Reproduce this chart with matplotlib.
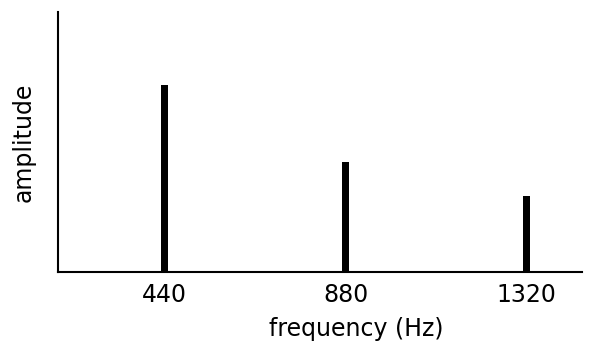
import numpy as np
import matplotlib
matplotlib.use("Agg")
import matplotlib.pyplot as plt

# harmonic spectrum
freqs = np.array([440, 880, 1320])
amps = np.array([0.72, 0.423, 0.292])
tick_labels = ["440", "880", "1320"]

fig = plt.figure(figsize=(6.02, 3.52), dpi=100)
ax = fig.add_axes([0.0963, 0.2273, 0.8705, 0.7386])

ax.bar(freqs, amps, width=17, color="black")

ax.set_xlim(182, 1454)
ax.set_ylim(0, 1)
ax.set_xticks(freqs)
ax.set_xticklabels(tick_labels)
ax.set_yticks([])
ax.tick_params(axis="x", length=0, labelsize=17, pad=8)

for side in ["top", "right"]:
    ax.spines[side].set_visible(False)
for side in ["left", "bottom"]:
    ax.spines[side].set_linewidth(1.5)

ax.set_xlabel("frequency (Hz)", fontsize=17)
ax.xaxis.set_label_coords(0.569, -0.175)
ax.set_ylabel("amplitude", fontsize=17, labelpad=16)

plt.savefig("out.png", dpi=100)
